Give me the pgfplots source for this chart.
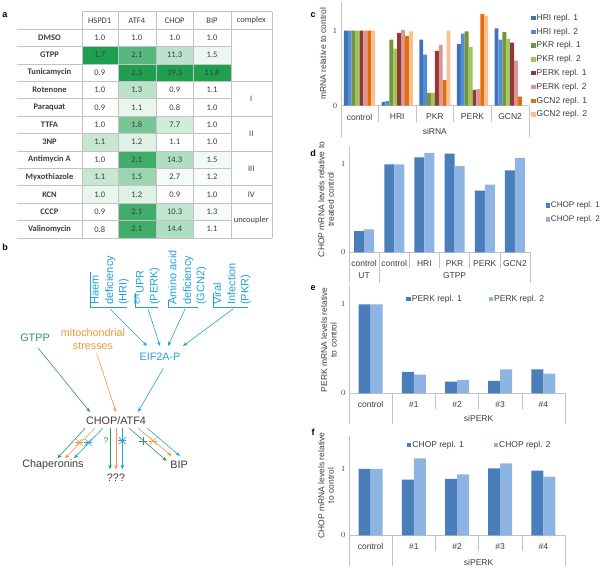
\documentclass[border=0pt]{standalone}
\usepackage{pgfplots}
\usepackage{pgfplotstable}
\pgfplotsset{compat=1.18}
\usepackage{fontspec}
\setmainfont{Liberation Sans}
\newfontfamily\calibri{Carlito}
\usetikzlibrary{arrows.meta}
\definecolor{tgreen}{RGB}{30,160,80}
\definecolor{gridg}{RGB}{195,195,195}
\definecolor{tgray}{RGB}{60,60,60}
\definecolor{dblue}{RGB}{35,160,220}
\definecolor{dgreen}{RGB}{45,150,90}
\definecolor{dorange}{RGB}{240,150,60}
\definecolor{hria}{RGB}{65,113,185}
\definecolor{hrib}{RGB}{83,141,213}
\definecolor{pkra}{RGB}{119,147,60}
\definecolor{pkrb}{RGB}{155,200,89}
\definecolor{perka}{RGB}{149,55,53}
\definecolor{perkb}{RGB}{217,150,148}
\definecolor{gcna}{RGB}{228,108,10}
\definecolor{gcnb}{RGB}{250,192,144}
\definecolor{repa}{RGB}{74,126,187}
\definecolor{repb}{RGB}{141,180,226}

\pgfplotstableread{
x HRIa HRIb PKRa PKRb PERKa PERKb GCNa GCNb
0 1.00 1.00 1.00 1.00 1.00 1.00 1.00 1.00
1 0.05 0.06 0.88 0.76 0.97 1.01 0.93 0.99
2 0.88 0.68 0.17 0.17 0.73 0.81 0.34 1.00
3 0.82 0.96 0.99 0.78 0.21 0.22 1.22 1.20
4 1.03 0.88 0.98 0.89 0.84 0.60 0.12 0.00
}\tabc
\pgfplotstableread{
x r1 r2
0 0.24 0.26
1 1.00 1.00
2 1.08 1.13
3 1.12 0.98
4 0.70 0.77
5 0.93 1.07
}\tabd
\pgfplotstableread{
x r1 r2
0 1.00 1.00
1 0.24 0.21
2 0.13 0.15
3 0.14 0.27
4 0.27 0.22
}\tabe
\pgfplotstableread{
x r1 r2
0 1.00 1.00
1 0.84 1.16
2 0.85 0.92
3 1.01 1.085
4 0.975 0.885
}\tabf

\tikzset{sep/.style={draw=gridg}}
\pgfplotsset{
  bc/.style={
    scale only axis, anchor=south west, ybar=0pt, ymin=0,
    axis x line*=bottom, axis y line*=left,
    axis line style={gridg,-},
    ytick={0,1}, xtick style={draw=none}, ytick style={draw=none},
    major tick length=0pt,
    tick label style={font=\fontsize{8.5}{10}\selectfont, text=tgray},
    label style={font=\fontsize{8.5}{9.5}\selectfont, text=tgray},
    xticklabel style={anchor=center, yshift=-11.3pt},
    clip=false,
    legend cell align=left,
    legend style={draw=none, fill=none, font=\fontsize{8.5}{10}\selectfont, text=tgray, inner sep=0pt,
       nodes={inner sep=1pt, text height=6.2pt, text depth=1.6pt}},
    legend image code/.code={\fill[##1] (0pt,-2.2pt) rectangle (4.4pt,2.2pt);},
  },
}

\begin{document}
\begin{tikzpicture}
\useasboundingbox (0,0) rectangle (600pt,568pt);

% ---------- panel letters ----------
\begin{scope}[x=1pt,y=-1pt,shift={(0pt,568pt)}]
\tikzset{plet/.style={font=\bfseries\fontsize{9}{10}\selectfont, inner sep=0pt}}
\node[plet] at (5,15) {a};
\node[plet] at (5,247) {b};
\node[plet] at (313,15) {c};
\node[plet] at (313,153) {d};
\node[plet] at (313,288) {e};
\node[plet] at (313,432) {f};

% ---------- table a ----------
\tikzset{tb/.style={font=\calibri\bfseries\fontsize{8.5}{10}\selectfont, text=tgray, inner sep=0pt},
         tv/.style={font=\calibri\fontsize{8.5}{10}\selectfont, text=tgray, inner sep=0pt}}
\foreach \i/\nm/\va/\pa/\vb/\pb/\vc/\pc/\vd/\pd in {
1/DMSO/1.0/0/1.0/0/1.0/0/1.0/0,
2/GTPP/1.7/100/2.1/75/11.3/30/1.5/8,
3/Tunicamycin/0.9/0/2.3/100/39.3/100/11.8/100,
4/Rotenone/1.0/0/1.3/30/0.9/0/1.1/0,
5/Paraquat/0.9/0/1.1/10/0.8/0/1.0/0,
6/TTFA/1.0/0/1.8/60/7.7/20/1.0/0,
7/3NP/1.1/25/1.2/15/1.1/0/1.0/0,
8/Antimycin A/1.0/0/2.1/85/14.3/35/1.5/6,
9/Myxothiazole/1.1/25/1.5/45/2.7/5/1.2/3,
10/KCN/1.0/10/1.2/15/0.9/0/1.0/0,
11/CCCP/0.9/0/2.1/85/10.3/27/1.3/4,
12/Valinomycin/0.8/0/2.1/85/14.4/35/1.1/0}{
  \pgfmathsetmacro\yt{11.7+17.4*\i}
  \pgfmathsetmacro\yb{\yt+17.4}
  \pgfmathsetmacro\ym{\yt+8.7}
  \fill[tgreen!\pa!white] (81.7,\yt) rectangle (117.7,\yb);
  \fill[tgreen!\pb!white] (117.7,\yt) rectangle (156,\yb);
  \fill[tgreen!\pc!white] (156,\yt) rectangle (193.3,\yb);
  \fill[tgreen!\pd!white] (193.3,\yt) rectangle (230.7,\yb);
  \node[tb] at (49.5,\ym) {\nm};
  \node[tv] at (99.7,\ym) {\va};
  \node[tv] at (136.8,\ym) {\vb};
  \node[tv] at (174.7,\ym) {\vc};
  \node[tv] at (212,\ym) {\vd};
}
\draw[gridg] (81.7,11.7) -- (272,11.7);
\foreach \i in {1,...,13} {\pgfmathsetmacro\yy{11.7+17.4*\i} \draw[gridg] (17.3,\yy) -- (230.7,\yy);}
\foreach \i in {1,4,6,8,10,11,13} {\pgfmathsetmacro\yy{11.7+17.4*\i} \draw[gridg] (230.7,\yy) -- (272,\yy);}
\foreach \xx in {81.7,117.7,156,193.3,230.7,272} {\draw[gridg] (\xx,11.7) -- (\xx,237.9);}
\node[tv] at (99.7,20.4) {HSPD1};
\node[tv] at (136.8,20.4) {ATF4};
\node[tv] at (174.7,20.4) {CHOP};
\node[tv] at (212,20.4) {BIP};
\node[tv] at (251.3,20.4) {complex};
\node[tv] at (251.3,98.7) {I};
\node[tv] at (251.3,133.5) {II};
\node[tv] at (251.3,168.3) {III};
\node[tv] at (251.3,194.4) {IV};
\node[tv] at (251.3,220.5) {uncoupler};

% ---------- diagram b ----------
\tikzset{rt/.style={rotate=90, anchor=base west, inner sep=0pt, text=dblue, font=\fontsize{11}{13}\selectfont},
         dt/.style={font=\fontsize{10.8}{13}\selectfont, inner sep=0pt},
         ar/.style={line width=0.6pt, -{Stealth[length=4.5pt,width=3.5pt]}}}
\node[rt] at (98.7,305) {Haem};
\node[rt] at (113,305) {deficiency};
\node[rt] at (126.5,305) {(HRI)};
\node[rt] at (143.7,305) {\textsuperscript{ER}UPR};
\node[rt] at (157.7,305) {(PERK)};
\node[rt] at (176.4,305) {Amino acid};
\node[rt] at (191,305) {deficiency};
\node[rt] at (204.4,305) {(GCN2)};
\node[rt] at (221,305) {Viral};
\node[rt] at (235.4,305) {Infection};
\node[rt] at (248.7,305) {(PKR)};
\draw[dblue, line width=0.5pt] (90,272) -- (90,307) -- (127,307);
\draw[dblue, line width=0.5pt] (135,293) -- (135,307) -- (158,307);
\draw[dblue, line width=0.5pt] (168.3,300) -- (168.3,307) -- (198,307);
\draw[dblue, line width=0.5pt] (213.3,293) -- (213.3,307) -- (248,307);
\node[dt, text=dgreen] at (35,338) {GTPP};
\node[dt, text=dorange, align=center] at (93,339.5) {mitochondrial\\stresses};
\node[dt, text=dblue] at (160,357) {EIF2A-P};
\node[dt, text=tgray] at (116,421) {CHOP/ATF4};
\node[dt, text=tgray] at (53,465) {Chaperonins};
\node[dt, text=tgray] at (116,478) {???};
\node[dt, text=tgray] at (179,465) {BIP};
\draw[ar, dblue] (110,309) -- (147,346);
\draw[ar, dblue] (148,309) -- (160,346);
\draw[ar, dblue] (185,309) -- (168,346);
\draw[ar, dblue] (233,309) -- (183,346);
\draw[ar, dgreen] (38.3,348.3) -- (90,412);
\draw[ar, dorange] (96.7,353.3) -- (116,412);
\draw[ar, dblue] (163.3,368.3) -- (138,412);
\draw[ar, dgreen] (85,428.3) -- (57.3,458.3);
\draw[ar, dorange] (95,428.3) -- (65,458.3);
\draw[ar, dblue] (102.7,428.3) -- (74,458.3);
\draw[ar, dgreen] (110,428.3) -- (110,469.3);
\draw[ar, dorange] (116,428.3) -- (116,469.3);
\draw[ar, dblue] (122.3,428.3) -- (122.3,469.3);
\draw[ar, dgreen] (129.3,428.3) -- (166.7,461);
\draw[ar, dorange] (138.3,428.3) -- (171.7,456);
\draw[ar, dblue] (147.3,428.3) -- (180,456);
\tikzset{xx/.style={line width=0.6pt}}
\foreach \cx/\cy/\cc in {79/442.3/dorange, 88.3/442.3/dblue, 122.3/440.7/dblue, 153.3/441/dorange}{
  \draw[xx,\cc] (\cx-3.5,\cy-3.5) -- (\cx+3.5,\cy+3.5);
  \draw[xx,\cc] (\cx-3.5,\cy+3.5) -- (\cx+3.5,\cy-3.5);
  \draw[xx,\cc] (\cx-4,\cy) -- (\cx+4,\cy);
}
\draw[xx,dgreen] (139.3,441) -- (147.3,441);
\draw[xx,dgreen] (143.3,437) -- (143.3,445);
\node[font=\fontsize{8.5}{10}\selectfont, text=dgreen, inner sep=0pt] at (106,440.7) {?};
\end{scope}

% ---------- chart c ----------
\begin{axis}[bc, at={(340.7pt,462.3pt)}, width=188.3pt, height=103.7pt,
  xmin=-0.5, xmax=4.5, ymax=1.38, bar width=3.9pt,
  xtick={0,1,2,3,4}, xticklabels={control,HRI,PKR,PERK,GCN2},
  xlabel={siRNA}, xlabel style={at={(axis description cs:0.5,0)}, anchor=center, yshift=-25.3pt},
  ylabel={mRNA relative to control}, ylabel style={at={(axis description cs:-0.094,0.5)}, anchor=center},
  legend style={at={(axis description cs:1.011,0.895)}, anchor=north west, row sep=4.0pt}]
\addplot[fill=hria, draw=none] table[x=x,y=HRIa]{\tabc};
\addplot[fill=hrib, draw=none] table[x=x,y=HRIb]{\tabc};
\addplot[fill=pkra, draw=none] table[x=x,y=PKRa]{\tabc};
\addplot[fill=pkrb, draw=none] table[x=x,y=PKRb]{\tabc};
\addplot[fill=perka, draw=none] table[x=x,y=PERKa]{\tabc};
\addplot[fill=perkb, draw=none] table[x=x,y=PERKb]{\tabc};
\addplot[fill=gcna, draw=none] table[x=x,y=GCNa]{\tabc};
\addplot[fill=gcnb, draw=none] table[x=x,y=GCNb]{\tabc};
\legend{HRI repl. 1,HRI repl. 2,PKR repl. 1,PKR repl. 2,PERK repl. 1,PERK repl. 2,GCN2 repl. 1,GCN2 repl. 2}
\draw[sep] (axis cs:0.5,0) -- ++(0pt,-16pt);
\draw[sep] (axis cs:1.5,0) -- ++(0pt,-16pt);
\draw[sep] (axis cs:2.5,0) -- ++(0pt,-16pt);
\draw[sep] (axis cs:3.5,0) -- ++(0pt,-16pt);
\draw[sep] (axis cs:-0.5,0) -- ++(0pt,-31pt);
\draw[sep] (axis cs:4.5,0) -- ++(0pt,-31pt);
\end{axis}

% ---------- chart d ----------
\begin{axis}[bc, at={(349pt,315.7pt)}, width=181pt, height=105.6pt,
  xmin=-0.5, xmax=5.5, ymax=1.2, bar width=10pt,
  xtick={0,1,2,3,4,5}, xticklabels={control,control,HRI,PKR,PERK,GCN2},
  ylabel={CHOP mRNA levels relative to\\treated control}, ylabel style={at={(axis description cs:-0.127,0.5)}, anchor=center, align=center},
  legend style={at={(axis description cs:1.085,0.378)}, anchor=west, row sep=4.2pt, font=\fontsize{8.1}{10}\selectfont}]
\addplot[fill=repa, draw=none] table[x=x,y=r1]{\tabd};
\addplot[fill=repb, draw=none] table[x=x,y=r2]{\tabd};
\legend{CHOP repl. 1,CHOP repl. 2}
\draw[sep] (axis cs:1.5,0) -- ++(0pt,-16pt);
\draw[sep] (axis cs:2.5,0) -- ++(0pt,-16pt);
\draw[sep] (axis cs:3.5,0) -- ++(0pt,-16pt);
\draw[sep] (axis cs:4.5,0) -- ++(0pt,-16pt);
\draw[sep] (axis cs:-0.5,0) -- ++(0pt,-31pt);
\draw[sep] (axis cs:0.5,0) -- ++(0pt,-31pt);
\draw[sep] (axis cs:5.5,0) -- ++(0pt,-31pt);
\node[font=\fontsize{8.5}{10}\selectfont, text=tgray] at ([yshift=-23pt]axis cs:0,0) {UT};
\node[font=\fontsize{8.5}{10}\selectfont, text=tgray] at ([yshift=-23pt]axis cs:3,0) {GTPP};
\end{axis}

% ---------- chart e ----------
\begin{axis}[bc, at={(349pt,174.7pt)}, width=216pt, height=106.8pt,
  xmin=-0.5, xmax=4.5, ymax=1.2, bar width=12pt,
  xtick={0,1,2,3,4}, xticklabels={control,\#1,\#2,\#3,\#4},
  ylabel={PERK mRNA levels relative\\to control}, ylabel style={at={(axis description cs:-0.093,0.5)}, anchor=center, align=center},
  legend columns=2,
  legend style={at={(axis description cs:0.265,0.883)}, anchor=west, /tikz/every even column/.append style={column sep=26pt}}]
\addplot[fill=repa, draw=none] table[x=x,y=r1]{\tabe};
\addplot[fill=repb, draw=none] table[x=x,y=r2]{\tabe};
\legend{PERK repl. 1,PERK repl. 2}
\draw[sep] (axis cs:1.5,0) -- ++(0pt,-16pt);
\draw[sep] (axis cs:2.5,0) -- ++(0pt,-16pt);
\draw[sep] (axis cs:3.5,0) -- ++(0pt,-16pt);
\draw[sep] (axis cs:-0.5,0) -- ++(0pt,-31pt);
\draw[sep] (axis cs:0.5,0) -- ++(0pt,-31pt);
\draw[sep] (axis cs:4.5,0) -- ++(0pt,-31pt);
\node[font=\fontsize{8.5}{10}\selectfont, text=tgray] at ([yshift=-25pt]axis cs:2.5,0) {siPERK};
\end{axis}

% ---------- chart f ----------
\begin{axis}[bc, at={(349pt,32.7pt)}, width=216pt, height=99.5pt,
  xmin=-0.5, xmax=4.5, ymax=1.5, bar width=12pt,
  xtick={0,1,2,3,4}, xticklabels={control,\#1,\#2,\#3,\#4},
  ylabel={CHOP mRNA levels relative\\to control}, ylabel style={at={(axis description cs:-0.106,0.5)}, anchor=center, align=center},
  legend columns=2,
  legend style={at={(axis description cs:0.268,0.907)}, anchor=west, /tikz/every even column/.append style={column sep=29pt}}]
\addplot[fill=repa, draw=none] table[x=x,y=r1]{\tabf};
\addplot[fill=repb, draw=none] table[x=x,y=r2]{\tabf};
\legend{CHOP repl. 1,CHOP repl. 2}
\draw[sep] (axis cs:1.5,0) -- ++(0pt,-16pt);
\draw[sep] (axis cs:2.5,0) -- ++(0pt,-16pt);
\draw[sep] (axis cs:3.5,0) -- ++(0pt,-16pt);
\draw[sep] (axis cs:-0.5,0) -- ++(0pt,-31pt);
\draw[sep] (axis cs:0.5,0) -- ++(0pt,-31pt);
\draw[sep] (axis cs:4.5,0) -- ++(0pt,-31pt);
\node[font=\fontsize{8.5}{10}\selectfont, text=tgray] at ([yshift=-27pt]axis cs:2.5,0) {siPERK};
\end{axis}
\end{tikzpicture}
\end{document}
